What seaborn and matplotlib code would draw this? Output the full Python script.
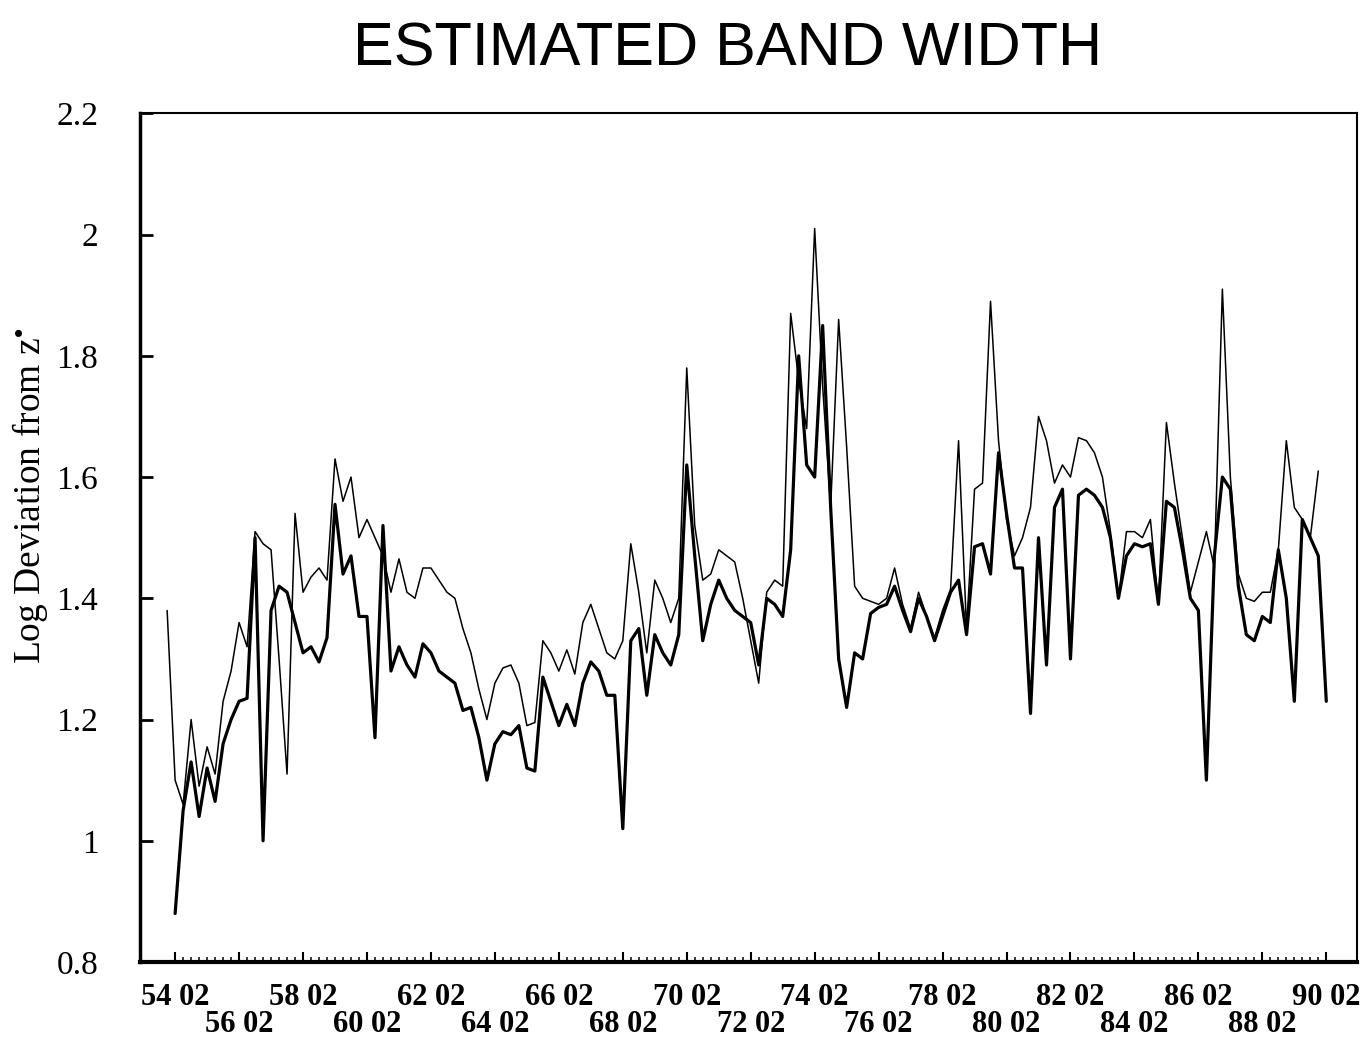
import numpy as np
import pandas as pd
import matplotlib
matplotlib.use("Agg")
import matplotlib.pyplot as plt
import matplotlib.transforms as mtransforms
from matplotlib.ticker import FixedLocator
import seaborn as sns

# quarterly index, 0 = "54 02"
quarter = list(range(-1, 145))

# thinner line (starts one quarter earlier)
thin_line = [
    1.38,
    1.10, 1.06, 1.20, 1.09, 1.155, 1.11, 1.23, 1.28, 1.36, 1.32,
    1.51, 1.49, 1.48, 1.30, 1.11, 1.54, 1.41, 1.435, 1.45, 1.43,
    1.63, 1.56, 1.60, 1.50, 1.53, 1.50, 1.47, 1.41, 1.465, 1.41,
    1.40, 1.45, 1.45, 1.43, 1.41, 1.40, 1.35, 1.31, 1.25, 1.20,
    1.26, 1.285, 1.29, 1.26, 1.19, 1.195, 1.33, 1.31, 1.28, 1.315,
    1.275, 1.36, 1.39, 1.35, 1.31, 1.30, 1.33, 1.49, 1.41, 1.31,
    1.43, 1.40, 1.36, 1.40, 1.78, 1.52, 1.43, 1.44, 1.48, 1.47,
    1.46, 1.40, 1.33, 1.26, 1.41, 1.43, 1.42, 1.87, 1.76, 1.68,
    2.01, 1.75, 1.55, 1.86, 1.65, 1.42, 1.40, 1.395, 1.39, 1.40,
    1.45, 1.39, 1.35, 1.41, 1.37, 1.335, 1.38, 1.415, 1.66, 1.35,
    1.58, 1.59, 1.89, 1.66, 1.53, 1.47, 1.50, 1.55, 1.70, 1.66,
    1.59, 1.62, 1.60, 1.665, 1.66, 1.64, 1.60, 1.51, 1.40, 1.51,
    1.51, 1.50, 1.53, 1.39, 1.69, 1.59, 1.50, 1.41, 1.46, 1.51,
    1.45, 1.91, 1.60, 1.44, 1.40, 1.395, 1.41, 1.41, 1.48, 1.66,
    1.55, 1.53, 1.50, 1.61,
    np.nan,
]

# thicker line
thick_line = [
    np.nan,
    0.88, 1.05, 1.13, 1.04, 1.12, 1.065, 1.16, 1.20, 1.23, 1.235,
    1.50, 1.00, 1.38, 1.42, 1.41, 1.36, 1.31, 1.32, 1.295, 1.335,
    1.555, 1.44, 1.47, 1.37, 1.37, 1.17, 1.52, 1.28, 1.32, 1.29,
    1.27, 1.325, 1.31, 1.28, 1.27, 1.26, 1.215, 1.22, 1.17, 1.10,
    1.16, 1.18, 1.175, 1.19, 1.12, 1.115, 1.27, 1.23, 1.19, 1.225,
    1.19, 1.26, 1.295, 1.28, 1.24, 1.24, 1.02, 1.33, 1.35, 1.24,
    1.34, 1.31, 1.29, 1.34, 1.62, 1.47, 1.33, 1.39, 1.43, 1.40,
    1.38, 1.37, 1.36, 1.29, 1.40, 1.39, 1.37, 1.48, 1.80, 1.62,
    1.60, 1.85, 1.55, 1.30, 1.22, 1.31, 1.30, 1.375, 1.385, 1.39,
    1.42, 1.38, 1.345, 1.40, 1.37, 1.33, 1.37, 1.41, 1.43, 1.34,
    1.485, 1.49, 1.44, 1.64, 1.54, 1.45, 1.45, 1.21, 1.50, 1.29,
    1.55, 1.58, 1.30, 1.57, 1.58, 1.57, 1.55, 1.50, 1.40, 1.47,
    1.49, 1.485, 1.49, 1.39, 1.56, 1.55, 1.48, 1.40, 1.38, 1.10,
    1.47, 1.60, 1.58, 1.42, 1.34, 1.33, 1.37, 1.36, 1.48, 1.40,
    1.23, 1.53, 1.50, 1.47, 1.23,
]

tick_quarters = list(range(0, 145, 8))
tick_labels = ["54 02", "56 02", "58 02", "60 02", "62 02", "64 02", "66 02",
               "68 02", "70 02", "72 02", "74 02", "76 02", "78 02", "80 02",
               "82 02", "84 02", "86 02", "88 02", "90 02"]
y_ticks = [0.8, 1.0, 1.2, 1.4, 1.6, 1.8, 2.0, 2.2]
y_labels = ["0.8", "1", "1.2", "1.4", "1.6", "1.8", "2", "2.2"]

df = pd.DataFrame({"quarter": quarter, "thin": thin_line, "thick": thick_line})

sns.set_style("white")
plt.rcParams["font.family"] = ["Liberation Serif", "DejaVu Serif"]
plt.rcParams["mathtext.fontset"] = "stix"
plt.rcParams["text.color"] = "black"
plt.rcParams["axes.labelcolor"] = "black"
plt.rcParams["xtick.color"] = "black"
plt.rcParams["ytick.color"] = "black"

fig = plt.figure(figsize=(13.68, 10.4), dpi=100)
ax = fig.add_axes([0.1023, 0.075, 0.890, 0.816])

sns.lineplot(data=df, x="quarter", y="thin", color="black", linewidth=1.1,
             estimator=None, sort=False, ax=ax)
sns.lineplot(data=df, x="quarter", y="thick", color="black", linewidth=2.3,
             estimator=None, sort=False, ax=ax)

ax.set_xlim(-4.4, 147.9)
ax.set_ylim(0.8, 2.2)

# y axis
ax.set_yticks(y_ticks)
ax.set_yticklabels(y_labels, fontsize=24)
ax.tick_params(axis="y", left=True, direction="in", length=9, width=2, pad=30)
ax.set_ylabel(r"Log Deviation from z$^{\bullet}$", fontsize=27)
ax.yaxis.set_label_coords(-0.074, 0.55)

# x axis: labels on two staggered rows
ax.set_xticks(tick_quarters)
ax.set_xticklabels(tick_labels, fontsize=22, fontweight="bold")
ax.xaxis.set_minor_locator(FixedLocator(range(0, 145)))
ax.tick_params(axis="x", which="major", bottom=True, direction="in",
               length=7, width=1.5, pad=15)
ax.tick_params(axis="x", which="minor", bottom=True, direction="in",
               length=3.5, width=1.1)
ax.set_xlabel("")
shift = mtransforms.ScaledTranslation(0, -0.27, fig.dpi_scale_trans)
for i, lab in enumerate(ax.get_xticklabels()):
    if i % 2 == 1:
        lab.set_transform(lab.get_transform() + shift)

for side, lw in [("left", 2.5), ("bottom", 3), ("top", 1.5), ("right", 1.5)]:
    ax.spines[side].set_visible(True)
    ax.spines[side].set_color("black")
    ax.spines[side].set_linewidth(lw)

fig.text(0.532, 0.952, "ESTIMATED BAND WIDTH", ha="center", va="center",
         fontsize=44, color="black", family=["Liberation Sans", "DejaVu Sans"])

fig.savefig("out.png", dpi=100)
